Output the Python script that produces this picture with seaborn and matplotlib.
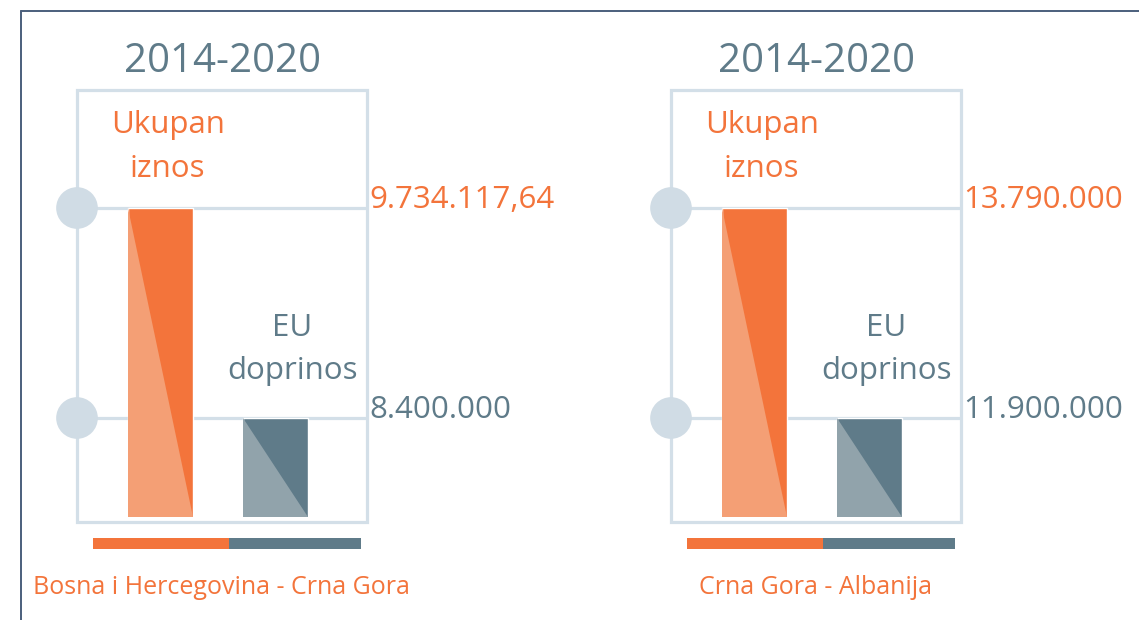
import matplotlib
matplotlib.use("Agg")
import matplotlib.pyplot as plt
import seaborn as sns
import pandas as pd
from matplotlib.patches import Polygon, Rectangle
from matplotlib.lines import Line2D

# ---------------- data ----------------
periods = ["2014-2020", "2014-2020"]
programmes = ["Bosna i Hercegovina - Crna Gora", "Crna Gora - Albanija"]
total_title = ["Ukupan", "iznos"]
eu_title = ["EU", "doprinos"]
total_amounts = [9734117.64, 13790000.0]
eu_contributions = [8400000.0, 11900000.0]
total_labels = ["9.734.117,64", "13.790.000"]
eu_labels = ["8.400.000", "11.900.000"]

# ---------------- style ----------------
sns.set_theme(style="white")
plt.rcParams['font.family'] = ['Open Sans', 'DejaVu Sans']

ORANGE = "#f3743b"
ORANGE_L = "#f49f75"
SLATE = "#5f7b89"
SLATE_L = "#91a3ab"
GRID = "#d3dfe8"
DOT = "#d0dce5"
FRAME = "#4b5f7c"

W, H = 1139, 620
fig = plt.figure(figsize=(W / 100, H / 100), dpi=100)
fig.patch.set_facecolor("white")

panel_left_px = [77, 671]
AX_W = 290
AX_TOP, AX_BOT = 90, 517
AX_H = AX_BOT - AX_TOP
HI_FRAC = (AX_BOT - 208) / AX_H
LO_FRAC = (AX_BOT - 418) / AX_H


def ay(px):
    return (AX_BOT - px) / AX_H


def axx(px):
    return px / AX_W


for i in range(2):
    left = panel_left_px[i]
    ax = fig.add_axes([left / W, (H - AX_BOT) / H, AX_W / W, AX_H / H])
    df = pd.DataFrame({"kind": ["total", "eu"],
                       "value": [total_amounts[i], eu_contributions[i]]})
    sns.barplot(data=df, x="kind", y="value", hue="kind",
                palette=[ORANGE, SLATE], width=0.568, legend=False,
                saturation=1, ax=ax, zorder=3)
    hi, lo = total_amounts[i], eu_contributions[i]
    span = (hi - lo) / (HI_FRAC - LO_FRAC)
    y0 = lo - LO_FRAC * span
    ax.set_ylim(y0, y0 + span)
    ax.set_xlim(-0.729, 1.80)
    ax.axis("off")

    # light diagonal halves of bars
    for p, lc in zip(ax.patches, [ORANGE_L, SLATE_L]):
        x0, w, top = p.get_x(), p.get_width(), p.get_height()
        ax.add_patch(Polygon([(x0, top), (x0, y0), (x0 + w, y0)],
                             closed=True, facecolor=lc, edgecolor="none",
                             zorder=4))

    # frame box and grid lines
    ax.add_patch(Rectangle((0, ay(522)), 1, 1 - ay(522), transform=ax.transAxes,
                           fill=False, edgecolor=GRID, lw=2.3, clip_on=False,
                           zorder=1))
    for v in (hi, lo):
        ax.axhline(v, color=GRID, lw=2.3, zorder=1)
    ax.scatter([-0.729, -0.729], [hi, lo], s=900, color=DOT, edgecolor="none",
               clip_on=False, zorder=2)

    ytr = ax.get_yaxis_transform()
    ax.text(1.0 + 2 / AX_W, hi, total_labels[i], transform=ytr, ha="left",
            va="baseline", fontsize=22.5, color=ORANGE)
    ax.text(1.0 + 2 / AX_W, lo, eu_labels[i], transform=ytr, ha="left",
            va="baseline", fontsize=22.5, color=SLATE)

    # title
    ax.text(0.5, ay(72), periods[i], transform=ax.transAxes, ha="center",
            va="baseline", fontsize=29, color=SLATE)

    # series labels
    ax.text(axx(91), ay(133), total_title[0], transform=ax.transAxes,
            ha="center", va="baseline", fontsize=22.5, color=ORANGE)
    ax.text(axx(90), ay(177), total_title[1], transform=ax.transAxes,
            ha="center", va="baseline", fontsize=22.5, color=ORANGE)
    ax.text(axx(215.5), ay(336), eu_title[0], transform=ax.transAxes,
            ha="center", va="baseline", fontsize=22.5, color=SLATE)
    ax.text(axx(215.5), ay(379), eu_title[1], transform=ax.transAxes,
            ha="center", va="baseline", fontsize=22.5, color=SLATE)

    # bottom two-tone bar
    ax.add_patch(Rectangle((axx(16), ay(549)), axx(136), ay(538) - ay(549),
                           transform=ax.transAxes, facecolor=ORANGE,
                           edgecolor="none", clip_on=False))
    ax.add_patch(Rectangle((axx(152), ay(549)), axx(132), ay(538) - ay(549),
                           transform=ax.transAxes, facecolor=SLATE,
                           edgecolor="none", clip_on=False))

    # programme label
    ax.text(0.497, ay(594), programmes[i], transform=ax.transAxes,
            ha="center", va="baseline", fontsize=18, color=ORANGE)

# outer frame lines
fig.add_artist(Line2D([21 / W, 1], [1 - 11 / H, 1 - 11 / H],
                      transform=fig.transFigure, color=FRAME, lw=1.4))
fig.add_artist(Line2D([21 / W, 21 / W], [0, 1 - 11 / H],
                      transform=fig.transFigure, color=FRAME, lw=1.4))

fig.savefig("out.png", dpi=100, facecolor="white")
